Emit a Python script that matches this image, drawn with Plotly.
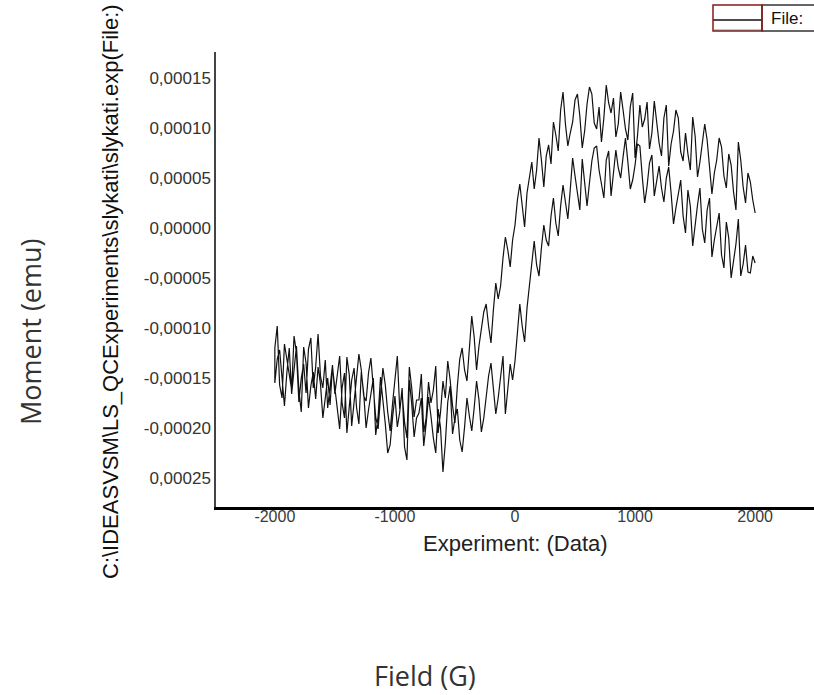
import plotly.graph_objects as go

# Field values (G) for each sweep, listed in ascending order
field_G = [
    -2000, -1980, -1960, -1940, -1920, -1900, -1880, -1860, -1840, -1820,
    -1800, -1780, -1760, -1740, -1720, -1700, -1680, -1660, -1640, -1620,
    -1600, -1580, -1560, -1540, -1520, -1500, -1480, -1460, -1440, -1420,
    -1400, -1380, -1360, -1340, -1320, -1300, -1280, -1260, -1240, -1220,
    -1200, -1180, -1160, -1140, -1120, -1100, -1080, -1060, -1040, -1020,
    -1000, -980, -960, -940, -920, -900, -880, -860, -840, -820,
    -800, -780, -760, -740, -720, -700, -680, -660, -640, -620,
    -600, -580, -560, -540, -520, -500, -480, -460, -440, -420,
    -400, -380, -360, -340, -320, -300, -280, -260, -240, -220,
    -200, -180, -160, -140, -120, -100, -80, -60, -40, -20,
    0, 20, 40, 60, 80, 100, 120, 140, 160, 180,
    200, 220, 240, 260, 280, 300, 320, 340, 360, 380,
    400, 420, 440, 460, 480, 500, 520, 540, 560, 580,
    600, 620, 640, 660, 680, 700, 720, 740, 760, 780,
    800, 820, 840, 860, 880, 900, 920, 940, 960, 980,
    1000, 1020, 1040, 1060, 1080, 1100, 1120, 1140, 1160, 1180,
    1200, 1220, 1240, 1260, 1280, 1300, 1320, 1340, 1360, 1380,
    1400, 1420, 1440, 1460, 1480, 1500, 1520, 1540, 1560, 1580,
    1600, 1620, 1640, 1660, 1680, 1700, 1720, 1740, 1760, 1780,
    1800, 1820, 1840, 1860, 1880, 1900, 1920, 1940, 1960, 1980,
    2000,
]

# Moment (micro-emu) on the descending sweep (upper branch), listed at field_G
moment_desc_uemu = [
    -120, -98, -157, -170, -116, -131, -144, -162, -108, -125,
    -174, -150, -136, -165, -121, -110, -160, -139, -106, -148,
    -160, -132, -180, -158, -137, -166, -150, -128, -175, -190,
    -129, -147, -198, -171, -152, -126, -142, -168, -173, -145,
    -130, -158, -189, -201, -169, -140, -157, -184, -203, -176,
    -150, -128, -181, -165, -194, -210, -139, -160, -189, -172,
    -172, -146, -204, -190, -154, -175, -162, -138, -205, -184,
    -153, -170, -133, -152, -178, -195, -158, -131, -120, -142,
    -153, -126, -88, -109, -142, -118, -101, -84, -76, -98,
    -115, -82, -55, -71, -58, -30, -9, -22, -39, -12,
    3, 28, 44, 20, 1, 35, 52, 66, 39, 58,
    90, 68, 41, 72, 83, 64, 106, 93, 77, 118,
    136, 104, 82, 95, 106, 128, 134, 112, 80, 97,
    124, 141, 134, 105, 99, 121, 86, 110, 143, 125,
    115, 130, 91, 104, 136, 118, 99, 88, 121, 135,
    70, 92, 123, 101, 109, 126, 79, 95, 127, 108,
    85, 72, 110, 123, 62, 84, 97, 118, 110, 76,
    67, 95, 74, 58, 111, 92, 51, 66, 82, 104,
    88, 61, 34, 55, 68, 90, 81, 52, 40, 74,
    63, 36, 18, 86, 68, 41, 25, 55, 46, 28,
    15,
]

# Moment (micro-emu) on the ascending sweep (lower branch), listed at field_G
moment_asc_uemu = [
    -155, -131, -122, -150, -178, -145, -120, -166, -140, -118,
    -162, -184, -119, -135, -180, -158, -144, -171, -139, -156,
    -190, -168, -150, -177, -139, -160, -184, -201, -160, -145,
    -205, -180, -152, -140, -179, -196, -144, -165, -200, -182,
    -165, -150, -207, -188, -149, -170, -196, -225, -217, -190,
    -168, -199, -184, -160, -219, -232, -152, -176, -209, -190,
    -185, -170, -218, -196, -169, -188, -210, -225, -181, -200,
    -244, -215, -174, -158, -206, -190, -181, -212, -224, -199,
    -170, -188, -203, -180, -153, -172, -204, -190, -166, -148,
    -135, -162, -186, -170, -150, -128, -186, -160, -136, -152,
    -133, -105, -76, -98, -114, -80, -56, -34, -13, -37,
    -48, -20, 3, -12, -18, 12, 30, 5, -8, 22,
    43, 26, 9, 38, 70, 52, 37, 18, 69, 47,
    22, 45, 67, 80, 82, 58, 44, 30, 68, 77,
    32, 55, 78, 60, 50, 71, 90, 66, 39, 48,
    63, 84, 82, 51, 25, 42, 65, 73, 32, 47,
    62, 40, 26, 50, 61, 35, 4, 20, 34, 48,
    12, -5, 38, 22, -18, 5, 23, 40, -1, -15,
    18, 30, -29, -12, 2, 15, -27, -40, 6, -10,
    -50, -32, -16, 9, -48, -36, -17, -44, -45, -28,
    -35,
]

y_tick_vals = [0.00015, 0.00010, 0.00005, 0.0, -0.00005, -0.00010, -0.00015, -0.00020, -0.00025]
y_tick_text = ["0,00015", "0,00010", "0,00005", "0,00000", "-0,00005",
               "-0,00010", "-0,00015", "-0,00020", "0,00025"]
x_tick_vals = [-2000, -1000, 0, 1000, 2000]
x_tick_text = ["-2000", "-1000", "0", "1000", "2000"]

# One continuous loop: +2000 -> -2000 on the upper branch, then back up on the lower one
loop_field = list(reversed(field_G)) + field_G
loop_moment = [v * 1e-6 for v in reversed(moment_desc_uemu)] + [v * 1e-6 for v in moment_asc_uemu]

W, H = 814, 695
L, R, T, B = 216, 0, 52, 188
PW, PH = W - L - R, H - T - B


def px(xp):
    return (xp - L) / PW


def py(yp):
    return (H - B - yp) / PH


fig = go.Figure()
fig.add_trace(go.Scatter(
    x=loop_field, y=loop_moment, mode="lines", name="File:",
    line=dict(color="#111111", width=1.2), showlegend=False,
))

fig.update_layout(
    width=W, height=H,
    margin=dict(l=L, r=R, t=T, b=B, pad=0),
    paper_bgcolor="white", plot_bgcolor="white",
    font=dict(family="Liberation Sans, Arial, sans-serif", color="#222222"),
    xaxis=dict(
        range=[-2490, 2490], showgrid=False, zeroline=False,
        showline=True, linecolor="#000000", linewidth=2.5,
        tickmode="array", tickvals=x_tick_vals, ticktext=x_tick_text,
        ticks="", ticklabelstandoff=-7, tickfont=dict(size=16, color="#3a3a3a"),
    ),
    yaxis=dict(
        range=[-0.000279, 0.000176], showgrid=False, zeroline=False,
        showline=True, linecolor="#444444", linewidth=1.5,
        tickmode="array", tickvals=y_tick_vals, ticktext=y_tick_text,
        ticks="", tickfont=dict(size=17, color="#333333"),
    ),
)

annotations = [
    dict(text="Moment (emu)", x=px(30), y=py(332), textangle=-90,
         font=dict(family="Open Sans, sans-serif", size=27, color="#333333")),
    dict(text="C:\\IDEASVSM\\LS_QCExperiments\\slykati\\slykati.exp(File:)",
         x=px(110), y=py(292), textangle=-90,
         font=dict(family="Liberation Sans, Arial, sans-serif", size=22, color="#111111")),
    dict(text="Experiment: (Data)", x=px(515), y=py(543),
         font=dict(family="Liberation Sans, Arial, sans-serif", size=22, color="#222222")),
    dict(text="Field (G)", x=px(425), y=py(675),
         font=dict(family="Open Sans, sans-serif", size=27, color="#333333")),
    dict(text="File:", x=px(769), y=py(18), xanchor="left",
         font=dict(family="Liberation Sans, Arial, sans-serif", size=17, color="#111111")),
]
for a in annotations:
    a.setdefault("xanchor", "center")
    a.update(xref="paper", yref="paper", yanchor="middle", showarrow=False)
fig.update_layout(annotations=annotations)

shapes = [
    dict(type="rect", x0=px(762), x1=px(818), y0=py(31), y1=py(5),
         line=dict(color="#333333", width=1.5)),
    dict(type="line", x0=px(714), x1=px(761), y0=py(30), y1=py(30),
         line=dict(color="#7fe3e3", width=2)),
    dict(type="line", x0=px(713), x1=px(762), y0=py(20), y1=py(20),
         line=dict(color="#111111", width=1.5)),
    dict(type="rect", x0=px(713), x1=px(762), y0=py(31), y1=py(5),
         line=dict(color="#8b1a1a", width=1.5)),
]
for s in shapes:
    s.update(xref="paper", yref="paper")
fig.update_layout(shapes=shapes)

fig.write_html("out.html")
